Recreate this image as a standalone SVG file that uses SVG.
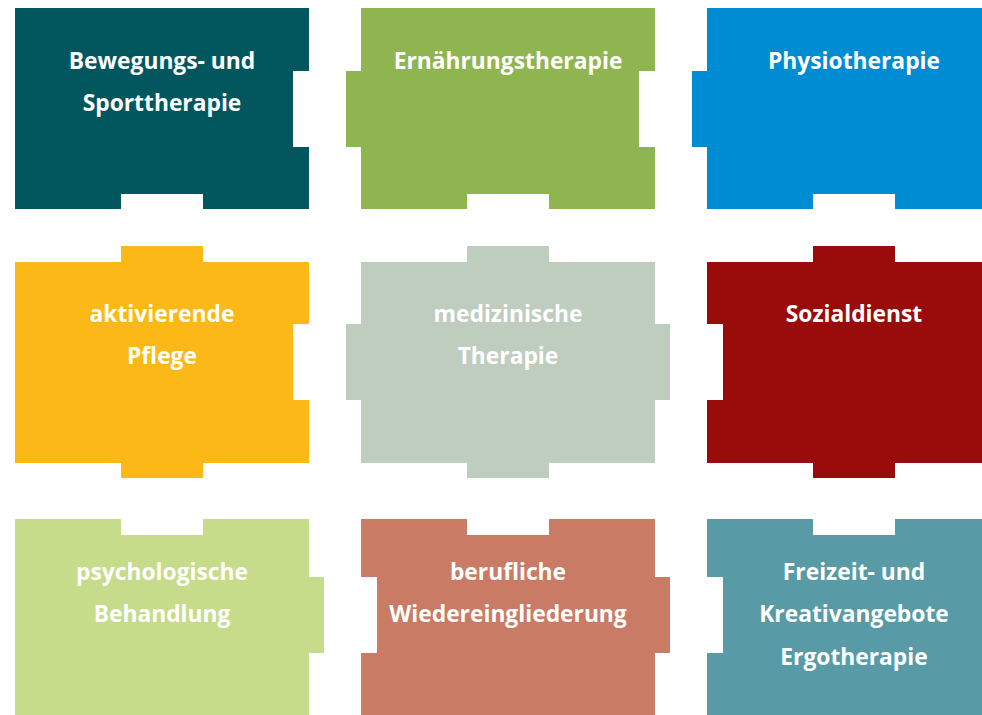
<svg xmlns="http://www.w3.org/2000/svg" width="982" height="715" viewBox="0 0 982 715">
<style>
text{font-family:"Open Sans","Noto Sans","Liberation Sans",sans-serif;font-weight:bold;font-size:22.8px;fill:#FFFFFF;text-anchor:middle}
</style>
<rect width="982" height="715" fill="#FFFFFF"/>
<g id="n1"><path fill="#02575F" d="M15,8 H309 V71 H293 V147 H309 V209 H203 V194 H121 V209 H15 Z"/><text x="162" y="69">Bewegungs- und</text><text x="162" y="111">Sporttherapie</text></g>
<g id="n2"><path fill="#8EB550" d="M361,8 H655 V71 H639 V147 H655 V209 H549 V194 H467 V209 H361 V147 H346 V71 H361 Z"/><text x="508" y="69">Ernährungstherapie</text></g>
<g id="n3"><path fill="#008CD2" d="M707,8 H982 V209 H895 V194 H813 V209 H707 V147 H692 V71 H707 Z"/><text x="854" y="69">Physiotherapie</text></g>
<g id="n4"><path fill="#FBB817" d="M15,262 H121 V246 H203 V262 H309 V324 H293 V400 H309 V463 H203 V478 H121 V463 H15 Z"/><text x="162" y="322">aktivierende</text><text x="162" y="364">Pflege</text></g>
<g id="n5"><path fill="#BFCDBF" d="M361,262 H467 V246 H549 V262 H655 V324 H670 V400 H655 V463 H549 V478 H467 V463 H361 V400 H346 V324 H361 Z"/><text x="508" y="322">medizinische</text><text x="508" y="364">Therapie</text></g>
<g id="n6"><path fill="#9A0C0C" d="M707,262 H813 V246 H895 V262 H982 V463 H895 V478 H813 V463 H707 V400 H723 V324 H707 Z"/><text x="854" y="322">Sozialdienst</text></g>
<g id="n7"><path fill="#C6DC8A" d="M15,519 H121 V535 H203 V519 H309 V577 H324 V653 H309 V715 H15 Z"/><text x="162" y="580">psychologische</text><text x="162" y="622">Behandlung</text></g>
<g id="n8"><path fill="#C97B65" d="M361,519 H467 V535 H549 V519 H655 V577 H670 V653 H655 V715 H361 V653 H377 V577 H361 Z"/><text x="508" y="580">berufliche</text><text x="508" y="622">Wiedereingliederung</text></g>
<g id="n9"><path fill="#589BA7" d="M707,519 H813 V535 H895 V519 H982 V715 H707 V653 H723 V577 H707 Z"/><text x="854" y="580">Freizeit- und</text><text x="854" y="622">Kreativangebote</text><text x="854" y="665">Ergotherapie</text></g>
<g id="connectors"/>
</svg>
